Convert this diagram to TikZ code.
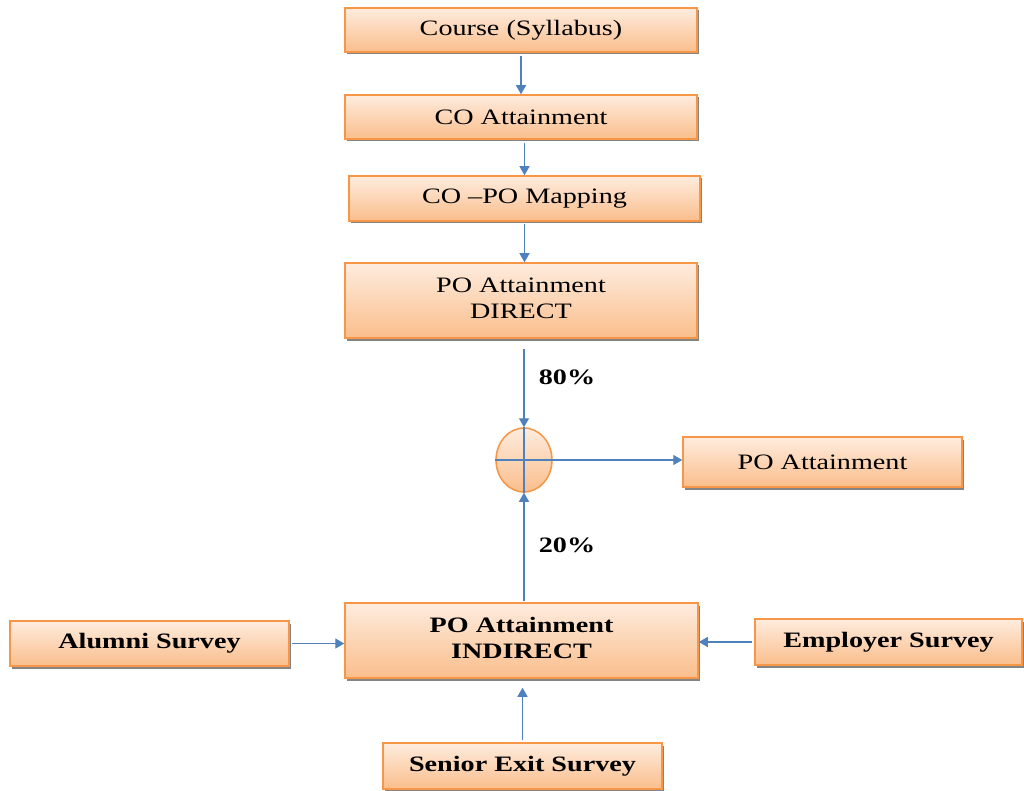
\documentclass[tikz,border=0pt]{standalone}
\usepackage{fontspec}
\setmainfont{Liberation Serif}
\usetikzlibrary{shadows,arrows.meta,shapes.geometric}
\definecolor{boxtop}{RGB}{254,236,222}
\definecolor{boxbot}{RGB}{250,190,140}
\definecolor{boxedge}{RGB}{247,150,70}
\definecolor{arrblue}{RGB}{79,129,189}
\newcommand{\wtext}[1]{\scalebox{1.28}[1]{#1}}
\newcommand{\wtwo}[2]{\scalebox{1.28}[1]{\begin{tabular}{@{}c@{}}#1\\#2\end{tabular}}}
\begin{document}
\begin{tikzpicture}[x=1pt,y=-1pt,
  box/.style={draw=boxedge, line width=1.5pt, top color=boxtop, bottom color=boxbot,
    drop shadow={shadow xshift=2pt, shadow yshift=-2.5pt, fill=black!60, opacity=0.8},
    inner sep=0pt, font=\fontsize{22}{26}\selectfont},
  bbox/.style={box, font=\fontsize{22}{26}\selectfont\bfseries},
  arr/.style={draw=arrblue, line width=1.4pt, -{Triangle[width=10pt,length=9pt]}},
  lbl/.style={font=\fontsize{22}{26}\selectfont\bfseries, inner sep=0pt}]
\useasboundingbox (0,0) rectangle (1024,791);
\fill[white] (0,0) rectangle (1024,791);
\node[box, minimum width=352pt, minimum height=44pt] (course) at (521,30) {\wtext{Course (Syllabus)}};
\node[box, minimum width=352pt, minimum height=44pt] (coatt) at (521,117) {\wtext{CO Attainment}};
\node[box, minimum width=351pt, minimum height=45pt] (map) at (524.5,198.5) {\wtext{CO --PO Mapping}};
\node[box, minimum width=352pt, minimum height=75pt] (direct) at (521,300.5) {\wtwo{PO Attainment}{DIRECT}};
\node[ellipse, draw=boxedge, line width=1.5pt, top color=boxtop, bottom color=boxbot,
  minimum width=56pt, minimum height=64pt, inner sep=0pt] (circ) at (524,460) {};
\node[box, minimum width=279pt, minimum height=50pt] (poatt) at (822.5,462) {\wtext{PO Attainment}};
\node[bbox, minimum width=353pt, minimum height=75pt] (indirect) at (521.5,640.5) {\wtwo{PO Attainment}{INDIRECT}};
\node[bbox, minimum width=279pt, minimum height=45pt] (alumni) at (149.5,643.5) {\wtext{Alumni Survey}};
\node[bbox, minimum width=267pt, minimum height=46pt] (employer) at (888.5,642) {\wtext{Employer Survey}};
\node[bbox, minimum width=279pt, minimum height=46pt] (senior) at (522.5,766) {\wtext{Senior Exit Survey}};
\node[lbl] (p80) at (567,377) {\wtext{80\%}};
\node[lbl] (p20) at (567,545) {\wtext{20\%}};
% connectors
\draw[arr, shorten <=3pt] (course.south) -- (coatt.north);
\draw[arr, shorten <=3pt] (map.north |- coatt.south) -- (map.north);
\draw[arr, shorten <=2pt] (map.south) -- (map.south |- direct.north);
\draw[arr, shorten <=10pt] (circ.north |- direct.south) -- (circ.north);
\draw[draw=arrblue, line width=1.3pt] (circ.north) -- (circ.south);
\draw[draw=arrblue, line width=1.3pt] (circ.west) -- (circ.east);
\draw[arr] (circ.east) -- (circ.east -| poatt.west);
\draw[arr, shorten <=1pt] (circ.south |- indirect.north) -- (circ.south);
\draw[arr, shorten <=2pt] (alumni.east) -- (alumni.east -| indirect.west);
\draw[arr, shorten <=2pt] (employer.west) -- (employer.west -| indirect.east);
\draw[arr, shorten <=2pt, shorten >=9pt] (senior.north) -- (senior.north |- indirect.south);
\end{tikzpicture}
\end{document}
